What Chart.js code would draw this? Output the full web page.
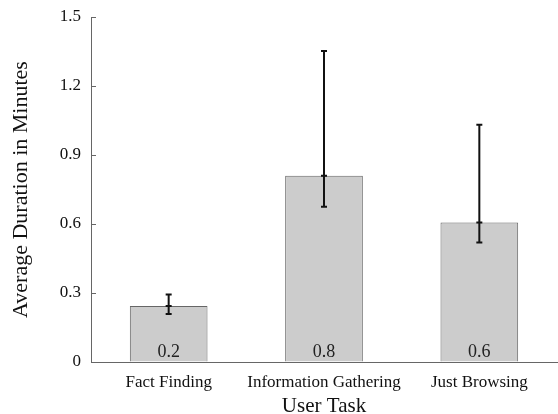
<!DOCTYPE html>
<html>
<head>
<meta charset="utf-8">
<script src="https://cdn.jsdelivr.net/npm/chart.js@4/dist/chart.umd.min.js"></script>
<style>
  html, body { margin: 0; padding: 0; background: #fff; }
  #wrap { width: 558px; height: 414px; }
</style>
</head>
<body>
<div id="wrap"><canvas id="durationChart"></canvas></div>
<script>
// values
const tasks = ['Fact Finding', 'Information Gathering', 'Just Browsing'];
const meanDuration = [0.243, 0.81, 0.607];
const errLow = [0.209, 0.675, 0.52];
const errHigh = [0.294, 1.352, 1.032];
const barLabels = ['0.2', '0.8', '0.6'];
const yTicks = ['0', '0.3', '0.6', '0.9', '1.2', '1.5'];

const serif = '"Liberation Serif", "DejaVu Serif", serif';

// inward y ticks, error bars and value labels at the foot of each bar
const errorBarPlugin = {
    id: 'errorBars',
    afterDatasetsDraw(chart) {
        const ctx = chart.ctx;
        const x = chart.scales.x;
        const y = chart.scales.y;
        ctx.save();

        ctx.strokeStyle = '#666';
        ctx.lineWidth = 1;
        y.ticks.forEach(t => {
            const py = Math.round(y.getPixelForValue(t.value)) + 0.5;
            ctx.beginPath();
            ctx.moveTo(y.right, py); ctx.lineTo(y.right + 5, py);
            ctx.stroke();
        });

        ctx.strokeStyle = '#111';
        ctx.lineWidth = 2;
        tasks.forEach((t, i) => {
            const cx = x.getPixelForValue(i);
            const top = y.getPixelForValue(errHigh[i]);
            const bot = y.getPixelForValue(errLow[i]);
            const mid = y.getPixelForValue(meanDuration[i]);
            ctx.beginPath();
            ctx.moveTo(cx, top); ctx.lineTo(cx, bot);
            ctx.moveTo(cx - 3, top); ctx.lineTo(cx + 3, top);
            ctx.moveTo(cx - 3, bot); ctx.lineTo(cx + 3, bot);
            ctx.moveTo(cx - 3, mid); ctx.lineTo(cx + 3, mid);
            ctx.stroke();
        });

        ctx.fillStyle = '#222';
        ctx.font = '18px ' + serif;
        ctx.textAlign = 'center';
        ctx.textBaseline = 'alphabetic';
        barLabels.forEach((lab, i) => {
            ctx.fillText(lab, x.getPixelForValue(i), y.getPixelForValue(0) - 5);
        });
        ctx.restore();
    }
};

new Chart(document.getElementById('durationChart'), {
    type: 'bar',
    data: {
        labels: tasks,
        datasets: [{
            data: meanDuration,
            backgroundColor: '#cccccc',
            borderColor: '#666666',
            borderWidth: 1,
            categoryPercentage: 1,
            barPercentage: 0.5
        }]
    },
    options: {
        responsive: true,
        maintainAspectRatio: false,
        animation: false,
        layout: { padding: { top: 17, right: 1 } },
        plugins: { legend: { display: false }, tooltip: { enabled: false } },
        scales: {
            x: {
                grid: { display: false },
                border: { color: '#666', width: 1 },
                ticks: {
                    color: '#111',
                    font: { family: serif, size: 17 },
                    padding: 2,
                    maxRotation: 0,
                    minRotation: 0,
                    autoSkip: false
                },
                title: { display: true, text: 'User Task', color: '#111', font: { family: serif, size: 21 }, padding: { top: 0, bottom: -5 } },
                afterFit(scale) { scale.height = 52; }
            },
            y: {
                min: 0,
                max: 1.5,
                ticks: {
                    stepSize: 0.3,
                    color: '#111',
                    font: { family: serif, size: 17 },
                    padding: 10,
                    callback: (v, i) => yTicks[i]
                },
                grid: { drawOnChartArea: false, drawTicks: false },
                border: { color: '#666', width: 1 },
                title: { display: true, text: 'Average Duration in Minutes', color: '#111', font: { family: serif, size: 22 }, padding: { top: 8, bottom: 4 } },
                afterFit(scale) {
                    scale.width = 91;
                    scale.paddingTop = 0;
                }
            }
        }
    },
    plugins: [errorBarPlugin]
});
</script>
</body>
</html>
